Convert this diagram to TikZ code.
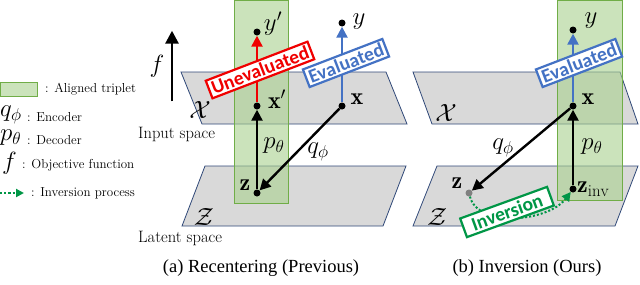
\documentclass[tikz,border=0pt]{standalone}
\usepackage{amsmath, amssymb}
\usepackage{fontspec}
\newfontfamily\capfont{Liberation Serif}
\newfontfamily\boxfont{Carlito}
\usetikzlibrary{arrows.meta}
\definecolor{planegray}{RGB}{217,217,217}
\definecolor{planeline}{RGB}{47,72,120}
\definecolor{tripfill}{RGB}{169,209,142}
\definecolor{tripline}{RGB}{112,173,71}
\definecolor{evalblue}{RGB}{68,114,196}
\definecolor{unevred}{RGB}{240,0,0}
\definecolor{invgreen}{RGB}{0,150,70}
\begin{document}
\begin{tikzpicture}[x=1pt,y=-1pt,
  plane/.style={fill=planegray,draw=planeline,line width=0.8pt},
  triplet/.style={fill=tripfill,fill opacity=0.6,draw=tripline,draw opacity=1,line width=0.9pt},
  dot/.style={circle,fill=black,inner sep=0pt,minimum size=7pt},
  lab/.style={font=\fontsize{24}{28}\selectfont,inner sep=0pt},
  arr/.style={line width=2.4pt,-{Triangle[length=11pt,width=11pt]}},
  tag/.style={draw=#1,text=#1,fill=white,line width=2.2pt,font=\boxfont\bfseries\fontsize{19.5}{21}\selectfont,inner xsep=3pt,inner ysep=2.5pt,rotate=21},
  leg/.style={font=\fontsize{13}{15}\selectfont,anchor=west,inner sep=0pt},
  legm/.style={font=\fontsize{24}{26}\selectfont,inner sep=0pt,anchor=west},
  space/.style={font=\fontsize{16.5}{18}\selectfont,anchor=west,inner sep=0pt}]
\useasboundingbox (0,0) rectangle (640,284);
% planes
\draw[plane] (181,72) -- (386,72) -- (407,124) -- (202,124) -- cycle;
\draw[plane] (205,166) -- (406,166) -- (383,226) -- (182,226) -- cycle;
\draw[plane] (413,72) -- (620,72) -- (638,124) -- (432,124) -- cycle;
\draw[plane] (437,166) -- (638,166) -- (615,226) -- (413,226) -- cycle;
\node[lab] (xl) at (200,110) {$\mathcal{X}$};
\node[lab] (zl) at (204,217) {$\mathcal{Z}$};
\node[lab] (xr) at (446,113) {$\mathcal{X}$};
\node[lab] (zr) at (437,217) {$\mathcal{Z}$};
\node[space] (inp) at (138,134) {Input space};
\node[space] (lat) at (138,238) {Latent space};
% aligned triplets
\draw[triplet] (234,0) rectangle (288,203);
\draw[triplet] (557,0) rectangle (622,200);
% objective arrow
\node[inner sep=0pt] (fb) at (172,102) {};
\node[inner sep=0pt] (ft) at (172,30) {};
\draw[line width=2.8pt,-{Triangle[length=13pt,width=13pt]}] (fb) -- (ft);
\node[lab] (f) at (157,66) {$f$};
% (a) recentering
\node[dot] (yp) at (257,32) {};
\node[dot] (xp) at (257,106) {};
\node[dot] (z) at (257,193) {};
\node[dot] (y) at (342,23) {};
\node[dot] (x) at (342,106) {};
\draw[arr,unevred] (xp) -- (yp);
\draw[arr,evalblue] (x) -- (y);
\draw[arr] (z) -- (xp);
\draw[arr] (x) -- (z);
\node[lab] (ypl) at (273,24) {$y'$};
\node[lab] (xpl) at (277,99) {$\mathbf{x}'$};
\node[lab] (yl) at (359,22) {$y$};
\node[lab] (xll) at (357,99) {$\mathbf{x}$};
\node[lab] (zll) at (245,185) {$\mathbf{z}$};
\node[lab] (pa) at (274,146) {$p_\theta$};
\node[lab] (qa) at (318,152) {$q_\phi$};
\node[tag=unevred] (unev) at (260,70) {Unevaluated};
\node[tag=evalblue] (eva) at (346,63) {Evaluated};
% (b) inversion
\node[dot] (yb) at (573,30) {};
\node[dot] (xb) at (573,106) {};
\node[dot] (zinv) at (573,189) {};
\node[dot,fill=gray] (zb) at (469,193) {};
\draw[invgreen,dotted,line width=2pt,-{Triangle[length=9pt,width=9pt]}] (zb) .. controls (478,228) and (548,222) .. (zinv);
\draw[arr,evalblue] (xb) -- (yb);
\draw[arr] (zinv) -- (xb);
\draw[arr] (xb) -- (zb);
\node[lab] (ybl) at (591,21) {$y$};
\node[lab] (xbl) at (588,99) {$\mathbf{x}$};
\node[lab,anchor=west] (zinvl) at (577,189) {$\mathbf{z}_{\mathrm{inv}}$};
\node[lab] (zbl) at (457,183) {$\mathbf{z}$};
\node[lab] (pb) at (592,147) {$p_\theta$};
\node[lab] (qb) at (503,148) {$q_\phi$};
\node[tag=evalblue] (evb) at (579,63) {Evaluated};
\node[tag=invgreen,inner xsep=9pt,inner ysep=3pt,rotate=-1] (inv) at (507,212) {Inversion};
% legend
\draw[fill=tripfill,fill opacity=0.6,draw=tripline,line width=0.9pt] (0,82) rectangle (37,96);
\node[leg] (l1) at (45,89) {: Aligned triplet};
\node[legm] (l2m) at (0,115) {$q_\phi$};
\node[leg] (l2) at (27,117) {: Encoder};
\node[legm] (l3m) at (0,138) {$p_\theta$};
\node[leg] (l3) at (27,140) {: Decoder};
\node[legm] (l4m) at (2,163) {$f$};
\node[leg] (l4) at (22,165) {: Objective function};
\coordinate (ls) at (0,193);
\coordinate (le) at (24,193);
\draw[invgreen,dotted,line width=2.2pt,-{Triangle[length=8pt,width=8pt]}] (ls) -- (le);
\node[leg] (l5) at (31,193) {: Inversion process};
% captions
\node[font=\capfont\fontsize{18.5}{21}\selectfont] (capa) at (261,268) {(a) Recentering (Previous)};
\node[font=\capfont\fontsize{18.5}{21}\selectfont] (capb) at (527,268) {(b) Inversion (Ours)};
\end{tikzpicture}
\end{document}
